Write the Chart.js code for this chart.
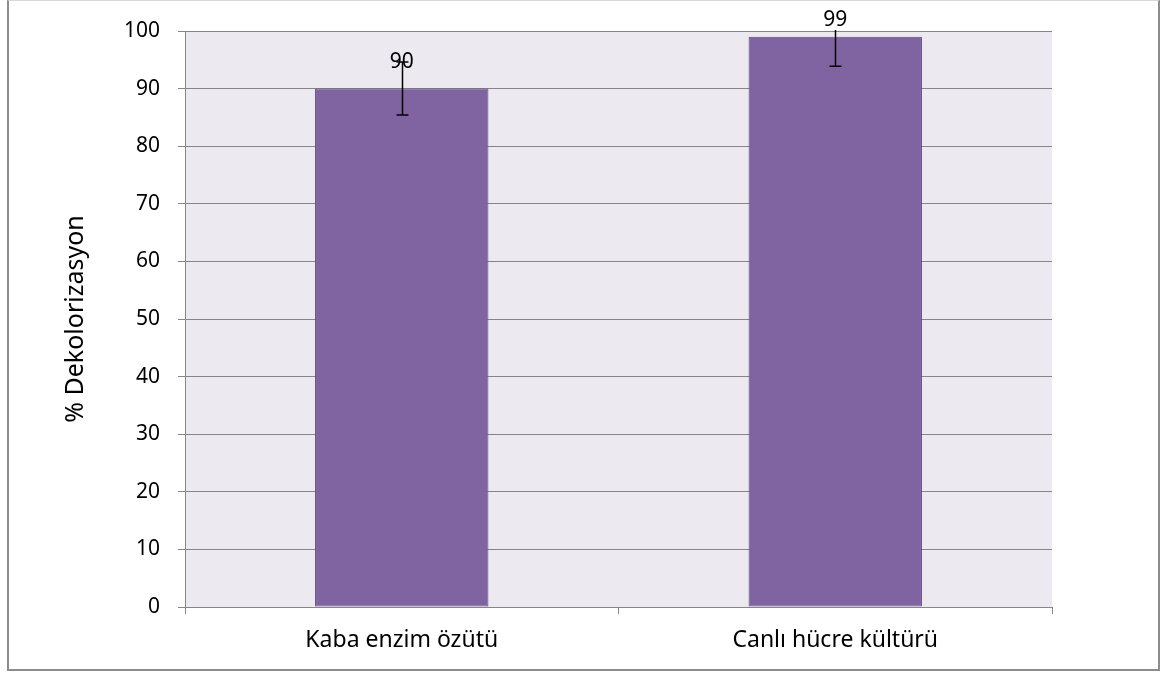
<!DOCTYPE html>
<html>
<head>
<meta charset="utf-8">
<script src="https://cdn.jsdelivr.net/npm/chart.js@4.4.1/dist/chart.umd.min.js"></script>
<style>
  html, body { margin: 0; padding: 0; background: #fff; }
  #wrap { position: relative; width: 1160px; height: 675px; }
  #frame { position: absolute; left: 7px; top: 0; width: 1149px; height: 668px;
           border: 2px solid #8c8c8c; border-top: 1px solid #d9d9d9; pointer-events: none; }
  canvas { position: absolute; left: 0; top: 0; }
</style>
</head>
<body>
<div id="wrap">
  <canvas id="chart" width="1160" height="675"></canvas>
  <div id="frame"></div>
</div>
<script>
// Dekolorizasyon grafiği — veriler
const categories = ["Kaba enzim özütü", "Canlı hücre kültürü"];
const values = [90, 99];
const errPlus = [4.6, 5.1];
const errMinus = [4.6, 5.1];
const yTicks = [0, 10, 20, 30, 40, 50, 60, 70, 80, 90, 100];

const FONT = "'Noto Sans', 'Open Sans', sans-serif";
const TEXT = "#000000";
const GRID = "#868686";
const FS = 21;

// plot arka planı
const plotBg = {
  id: "plotBg",
  beforeDraw(chart) {
    const { ctx, chartArea: a } = chart;
    ctx.save();
    ctx.fillStyle = "#ECEAF0";
    ctx.fillRect(a.left, a.top, a.right - a.left, a.bottom - a.top);
    ctx.restore();
  }
};

// hata çubukları + değer etiketleri
const errorBars = {
  id: "errorBars",
  afterDatasetsDraw(chart) {
    const { ctx, chartArea: a, scales: { y } } = chart;
    const meta = chart.getDatasetMeta(0);
    ctx.save();
    ctx.beginPath();
    ctx.rect(a.left, a.top - 1, a.right - a.left, a.bottom - a.top + 2);
    ctx.clip();
    ctx.strokeStyle = "#000";
    ctx.lineWidth = 1.5;
    meta.data.forEach((bar, i) => {
      const x = Math.round(bar.x) + 0.5;
      const yHi = y.getPixelForValue(values[i] + errPlus[i]);
      const yLo = y.getPixelForValue(values[i] - errMinus[i]);
      ctx.beginPath();
      ctx.moveTo(x, yHi); ctx.lineTo(x, yLo);
      ctx.moveTo(x - 6, yHi); ctx.lineTo(x + 6, yHi);
      ctx.moveTo(x - 6, yLo); ctx.lineTo(x + 6, yLo);
      ctx.stroke();
    });
    ctx.restore();

    ctx.save();
    ctx.fillStyle = TEXT;
    ctx.font = FS + "px " + FONT;
    ctx.textAlign = "center";
    ctx.textBaseline = "middle";
    meta.data.forEach((bar, i) => {
      const yl = Math.max(y.getPixelForValue(values[i] + errPlus[i]), 20);
      ctx.fillText(String(values[i]), bar.x, yl);
    });
    ctx.restore();
  }
};

new Chart(document.getElementById("chart"), {
  type: "bar",
  data: {
    labels: categories,
    datasets: [{
      data: values,
      backgroundColor: "#8064A2",
      borderColor: "#5F4A80",
      borderWidth: 1,
      borderSkipped: false,
      categoryPercentage: 1,
      barPercentage: 0.4,
    }],
  },
  options: {
    responsive: false,
    animation: false,
    devicePixelRatio: 1,
    layout: { padding: { left: 0, top: 31, right: 108, bottom: 0 } },
    plugins: { legend: { display: false }, tooltip: { enabled: false } },
    scales: {
      x: {
        afterFit(s) { s.height = 68; },
        grid: { display: true, drawOnChartArea: false, offset: true, color: GRID, tickLength: 7 },
        border: { color: GRID, width: 1 },
        ticks: { color: TEXT, font: { family: FONT, size: 23 }, padding: 13 },
      },
      y: {
        min: 0, max: 100,
        afterFit(s) { s.width = 185; },
        afterBuildTicks(s) { s.ticks = yTicks.map(v => ({ value: v })); },
        grid: { color: GRID, tickLength: 7 },
        border: { color: GRID, width: 1 },
        ticks: { color: TEXT, font: { family: FONT, size: FS }, padding: 18 },
        title: { display: true, text: "% Dekolorizasyon", color: TEXT, font: { family: FONT, size: 25 }, padding: { top: 61, bottom: 0 } },
      },
    },
  },
  plugins: [plotBg, errorBars],
});
</script>
</body>
</html>
